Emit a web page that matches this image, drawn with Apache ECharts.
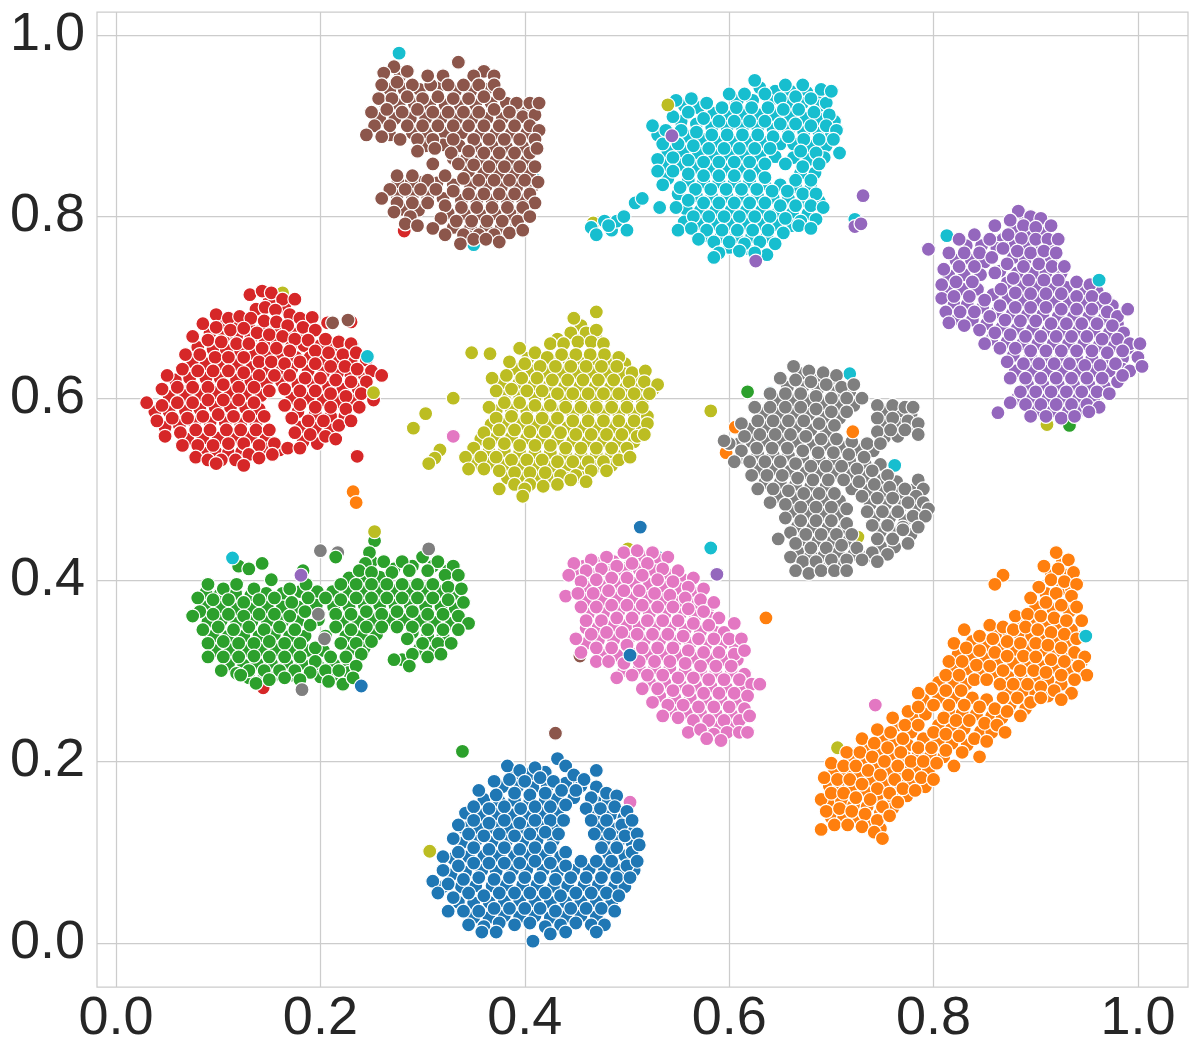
<!DOCTYPE html>
<html>
<head>
<meta charset="utf-8">
<style>html,body{margin:0;background:#fff}#chart{width:1200px;height:1050px}</style>
<script src="https://cdn.jsdelivr.net/npm/echarts@6/dist/echarts.min.js"></script>
</head>
<body>
<div id="chart"></div>
<script>
var tickValues = [0, 0.2, 0.4, 0.6, 0.8, 1.0];
var colors = ['#1f77b4','#ff7f0e','#2ca02c','#d62728','#9467bd','#8c564b','#e377c2','#7f7f7f','#bcbd22','#17becf'];

var blue = [[.39,.187],[.405,.186],[.42,.188],[.45,.178],[.378,.172],[.393,.172],[.408,.171],[.422,.172],[.44,.176],[.455,.173],[.36,.158],[.375,.156],[.39,.157],[.405,.156],[.42,.157],[.432,.159],[.448,.16],[.47,.155],[.482,.157],
[.342,.143],[.358,.141],[.372,.142],[.388,.141],[.402,.142],[.418,.143],[.432,.143],[.47,.141],[.485,.142],[.497,.138],[.34,.127],[.355,.126],[.37,.127],[.385,.126],[.4,.127],[.415,.128],[.43,.128],[.475,.128],[.49,.126],[.503,.127],
[.338,.11],[.352,.112],[.368,.111],[.382,.112],[.398,.111],[.412,.113],[.428,.113],[.478,.113],[.492,.112],[.505,.11],[.33,.093],[.345,.095],[.36,.096],[.375,.096],[.39,.096],[.405,.097],[.42,.097],[.435,.095],[.482,.098],[.498,.096],
[.328,.075],[.342,.078],[.358,.08],[.372,.079],[.388,.08],[.402,.081],[.418,.08],[.432,.078],[.448,.08],[.463,.081],[.478,.081],[.493,.08],[.507,.08],[.32,.062],[.338,.062],[.352,.063],[.368,.063],[.382,.064],[.398,.064],[.412,.064],[.428,.062],[.442,.063],[.458,.064],[.472,.064],[.488,.063],[.498,.062],
[.335,.045],[.35,.044],[.365,.045],[.38,.046],[.395,.047],[.41,.046],[.425,.045],[.44,.045],[.455,.046],[.47,.046],[.485,.044],[.35,.028],[.365,.028],[.38,.03],[.395,.029],[.41,.03],[.425,.028],[.44,.029],[.455,.03],[.47,.029],
[.383,.195],[.395,.19],[.41,.193],[.432,.203],[.44,.195],[.47,.19],
[.37,.178],[.385,.18],[.4,.178],[.415,.182],[.428,.178],[.448,.185],[.458,.18],[.47,.172],
[.355,.168],[.372,.163],[.39,.165],[.405,.163],[.42,.165],[.436,.168],[.45,.168],[.465,.16],[.48,.165],[.49,.162],
[.35,.15],[.365,.148],[.38,.15],[.396,.148],[.41,.15],[.425,.15],[.44,.152],[.46,.148],[.474,.148],[.488,.15],[.5,.145],
[.335,.13],[.35,.135],[.365,.132],[.38,.135],[.395,.132],[.41,.135],[.425,.135],[.438,.135],[.465,.135],[.48,.135],[.495,.13],[.505,.135],
[.33,.115],[.345,.12],[.36,.118],[.375,.12],[.39,.118],[.405,.12],[.42,.122],[.433,.12],[.468,.12],[.483,.12],[.498,.118],[.51,.12],
[.32,.095],[.335,.1],[.35,.105],[.365,.103],[.38,.105],[.395,.103],[.41,.105],[.425,.105],[.44,.1],[.475,.105],[.49,.105],[.505,.1],[.512,.108],
[.32,.08],[.335,.085],[.35,.088],[.365,.088],[.38,.088],[.395,.088],[.41,.09],[.425,.088],[.44,.085],[.455,.09],[.47,.09],[.485,.09],[.5,.085],[.51,.09],
[.31,.068],[.325,.065],[.34,.07],[.355,.072],[.37,.07],[.385,.072],[.4,.072],[.415,.072],[.43,.07],[.445,.072],[.46,.072],[.475,.072],[.49,.072],[.503,.072],
[.315,.055],[.33,.05],[.345,.055],[.36,.052],[.375,.055],[.39,.055],[.405,.055],[.42,.055],[.435,.052],[.45,.055],[.465,.055],[.48,.055],[.492,.052],
[.325,.035],[.34,.035],[.355,.035],[.37,.038],[.385,.038],[.4,.038],[.415,.038],[.43,.035],[.445,.038],[.46,.038],[.475,.038],[.488,.035],
[.345,.02],[.36,.018],[.375,.022],[.39,.02],[.405,.022],[.42,.018],[.435,.02],[.45,.022],[.465,.02],[.478,.02],
[.358,.012],[.372,.012],[.408,.002],[.425,.01],[.44,.012],[.47,.012]];

var orange = [[.926,.42],[.915,.408],[.93,.405],[.91,.385],[.925,.39],[.935,.39],[.9,.37],[.917,.367],[.933,.365],[.886,.355],[.898,.352],[.91,.352],[.923,.348],[.935,.345],[.862,.342],[.874,.34],[.885,.339],[.896,.338],[.908,.336],[.92,.333],[.933,.33],
[.838,.332],[.852,.328],[.865,.326],[.878,.323],[.893,.323],[.906,.322],[.92,.32],[.932,.316],[.945,.31],[.824,.318],[.838,.316],[.85,.313],[.862,.31],[.878,.308],[.892,.308],[.905,.305],[.92,.303],[.933,.3],[.945,.298],
[.82,.302],[.833,.302],[.848,.298],[.86,.297],[.873,.293],[.886,.292],[.9,.292],[.912,.29],[.925,.285],[.805,.287],[.82,.287],[.832,.285],[.872,.278],[.888,.278],[.9,.275],[.912,.272],
[.79,.268],[.805,.27],[.82,.27],[.838,.27],[.852,.268],[.875,.262],[.89,.258],[.78,.25],[.792,.252],[.815,.255],[.828,.253],[.842,.252],[.857,.25],[.867,.248],[.765,.24],[.778,.232],[.805,.24],[.818,.238],[.83,.236],[.846,.233],[.857,.232],
[.75,.225],[.763,.222],[.775,.218],[.79,.225],[.805,.222],[.818,.22],[.833,.218],[.735,.215],[.748,.21],[.76,.205],[.772,.205],[.785,.207],[.797,.206],[.81,.205],[.72,.202],[.732,.2],[.743,.196],[.756,.19],[.77,.19],[.782,.192],[.795,.19],
[.703,.188],[.715,.187],[.727,.185],[.74,.18],[.752,.175],[.767,.175],[.78,.175],[.792,.172],[.698,.173],[.708,.172],[.72,.172],[.733,.167],[.745,.162],[.76,.16],[.774,.162],[.698,.152],[.71,.156],[.722,.152],[.735,.15],[.748,.143],[.76,.148],[.7,.138],[.712,.138],[.725,.136],[.738,.132],[.748,.126],
[.92,.43],[.932,.422],[.908,.415],[.922,.412],[.937,.408],[.915,.4],[.928,.398],[.94,.395],[.868,.405],[.86,.395],[.903,.392],[.92,.385],[.935,.382],
[.895,.38],[.91,.375],[.925,.372],[.94,.37],[.945,.355],[.88,.36],[.892,.362],[.905,.36],[.918,.358],[.93,.355],[.855,.35],[.868,.348],[.878,.345],[.89,.348],[.902,.345],[.915,.342],[.928,.34],[.94,.335],
[.83,.345],[.845,.338],[.858,.335],[.872,.332],[.885,.33],[.9,.33],[.912,.328],[.925,.325],[.938,.32],[.948,.315],
[.82,.33],[.832,.325],[.845,.322],[.86,.32],[.872,.316],[.888,.316],[.9,.315],[.915,.312],[.928,.31],[.942,.305],[.95,.295],
[.815,.31],[.828,.31],[.842,.306],[.855,.305],[.868,.3],[.885,.3],[.898,.3],[.91,.298],[.925,.295],[.938,.29],[.935,.275],
[.812,.295],[.825,.295],[.84,.29],[.852,.29],[.865,.285],[.878,.285],[.892,.285],[.905,.282],[.918,.278],[.925,.268],
[.785,.275],[.798,.28],[.812,.278],[.827,.278],[.868,.27],[.882,.27],[.895,.265],[.905,.27],
[.775,.255],[.785,.26],[.8,.262],[.815,.262],[.83,.262],[.845,.26],[.86,.258],[.872,.255],[.885,.25],
[.76,.248],[.772,.24],[.785,.24],[.81,.248],[.822,.245],[.835,.245],[.85,.242],[.862,.24],[.87,.232],
[.745,.235],[.758,.232],[.77,.225],[.8,.232],[.812,.23],[.825,.228],[.84,.225],[.852,.222],
[.73,.225],[.742,.22],[.755,.215],[.768,.21],[.785,.215],[.798,.215],[.812,.212],[.828,.21],[.845,.205],
[.715,.21],[.728,.21],[.74,.205],[.752,.2],[.765,.195],[.778,.2],[.79,.2],[.803,.198],[.82,.195],
[.7,.198],[.712,.195],[.724,.195],[.736,.19],[.748,.185],[.762,.18],[.775,.185],[.788,.182],[.8,.18],
[.693,.182],[.706,.18],[.718,.18],[.73,.175],[.745,.17],[.757,.165],[.77,.17],[.782,.168],
[.69,.158],[.7,.165],[.712,.165],[.724,.16],[.738,.158],[.75,.15],[.765,.155],
[.695,.145],[.708,.148],[.72,.145],[.733,.142],[.745,.135],[.757,.14],
[.69,.125],[.703,.13],[.716,.13],[.73,.128],[.742,.122],[.75,.115]];

var green = [[.25,.42],[.244,.404],[.258,.403],[.272,.412],[.29,.415],[.31,.415],[.325,.41],[.228,.402],[.258,.388],[.272,.388],[.288,.388],[.303,.388],[.318,.387],[.332,.385],
[.088,.386],[.102,.384],[.117,.385],[.132,.383],[.147,.385],[.163,.385],[.18,.387],[.197,.387],[.212,.387],[.228,.387],[.243,.387],[.088,.37],[.103,.37],[.118,.368],[.133,.368],[.148,.37],[.163,.37],[.178,.37],[.196,.372],[.213,.37],[.228,.37],[.243,.372],[.258,.372],[.273,.372],[.288,.372],[.303,.37],[.318,.37],[.332,.368],
[.09,.354],[.103,.355],[.118,.352],[.133,.354],[.148,.354],[.163,.354],[.178,.354],[.198,.356],[.222,.354],[.237,.354],[.252,.356],[.267,.356],[.282,.356],[.298,.355],[.312,.353],[.328,.352],[.095,.338],[.11,.338],[.125,.338],[.14,.338],[.155,.34],[.17,.338],[.185,.338],[.205,.338],[.225,.338],[.24,.338],[.255,.34],[.29,.342],[.305,.338],[.32,.338],
[.097,.322],[.112,.323],[.127,.322],[.142,.323],[.157,.323],[.172,.322],[.187,.322],[.203,.322],[.228,.322],[.243,.325],[.297,.324],[.312,.323],[.11,.307],[.125,.306],[.138,.308],[.152,.308],[.167,.308],[.182,.308],[.198,.305],[.213,.307],[.228,.308],[.28,.312],[.13,.292],[.145,.294],[.158,.296],[.172,.295],[.2,.293],[.215,.294],[.228,.298],
[.253,.443],[.248,.43],[.244,.418],[.12,.415],[.13,.412],[.143,.418],[.152,.4],[.183,.41],[.215,.425],
[.262,.42],[.28,.42],[.3,.425],[.315,.42],[.33,.415],[.238,.41],[.25,.408],[.27,.408],[.287,.41],[.305,.41],[.322,.405],[.335,.405],
[.09,.395],[.105,.39],[.118,.395],[.135,.39],[.17,.39],[.186,.395],[.22,.395],[.235,.395],[.25,.395],[.265,.395],[.28,.395],[.295,.395],[.31,.395],[.325,.392],[.338,.39],
[.08,.38],[.095,.378],[.11,.378],[.125,.375],[.14,.378],[.155,.38],[.172,.375],[.188,.38],[.205,.38],[.22,.378],[.235,.38],[.25,.38],[.265,.38],[.28,.38],[.295,.38],[.31,.38],[.325,.378],[.34,.375],
[.082,.365],[.075,.36],[.095,.362],[.11,.362],[.125,.36],[.14,.362],[.155,.362],[.17,.36],[.185,.365],[.215,.362],[.23,.362],[.245,.365],[.26,.362],[.275,.365],[.29,.365],[.305,.362],[.32,.362],[.335,.36],[.345,.352],
[.085,.345],[.1,.348],[.115,.345],[.13,.348],[.145,.345],[.16,.348],[.175,.345],[.19,.35],[.215,.348],[.23,.345],[.245,.348],[.26,.348],[.275,.348],[.29,.348],[.305,.345],[.32,.345],[.335,.345],
[.09,.33],[.105,.332],[.12,.33],[.135,.33],[.15,.332],[.165,.33],[.18,.33],[.195,.325],[.22,.33],[.235,.33],[.25,.332],[.285,.335],[.3,.33],[.315,.33],[.328,.33],
[.09,.315],[.105,.315],[.12,.315],[.135,.316],[.15,.315],[.165,.315],[.18,.315],[.195,.31],[.21,.315],[.225,.315],[.24,.318],[.29,.318],[.305,.315],[.318,.318],
[.103,.3],[.118,.297],[.13,.3],[.145,.3],[.16,.3],[.175,.3],[.19,.298],[.205,.3],[.218,.3],[.235,.305],[.272,.312],[.287,.305],
[.122,.295],[.137,.286],[.15,.29],[.165,.292],[.18,.29],[.208,.288],[.222,.285],[.232,.292]];

var red = [[.15,.707],[.165,.7],[.137,.698],[.105,.682],[.118,.683],[.13,.68],[.144,.677],[.157,.676],[.172,.672],[.186,.671],[.092,.672],[.106,.668],[.118,.668],[.132,.666],[.146,.662],[.158,.662],[.172,.658],[.184,.658],[.2,.658],[.214,.656],[.228,.654],
[.08,.656],[.095,.654],[.108,.653],[.122,.652],[.136,.648],[.148,.648],[.162,.646],[.176,.645],[.19,.645],[.203,.643],[.216,.642],[.23,.641],[.075,.64],[.088,.638],[.103,.638],[.118,.637],[.133,.634],[.146,.632],[.16,.632],[.172,.632],[.188,.63],[.203,.628],[.217,.628],[.23,.625],[.243,.625],
[.058,.62],[.072,.622],[.088,.622],[.102,.622],[.118,.62],[.132,.619],[.147,.616],[.162,.618],[.178,.615],[.193,.615],[.208,.612],[.222,.61],[.237,.61],[.052,.602],[.068,.603],[.083,.604],[.097,.606],[.112,.606],[.127,.605],[.142,.603],[.172,.6],[.188,.6],[.203,.598],[.218,.596],[.232,.597],[.245,.61],
[.038,.585],[.052,.585],[.068,.586],[.082,.588],[.097,.59],[.112,.59],[.127,.589],[.14,.588],[.178,.585],[.195,.583],[.21,.58],[.224,.58],[.048,.568],[.062,.57],[.077,.572],[.092,.573],[.107,.573],[.122,.572],[.137,.572],[.18,.568],[.195,.567],[.21,.565],[.07,.555],[.085,.556],[.1,.556],[.117,.557],[.132,.557],[.147,.556],[.183,.552],[.197,.55],[.085,.54],[.098,.54],[.11,.54],[.123,.541],[.147,.544],[.16,.543],
[.131,.714],[.143,.718],[.152,.716],[.163,.709],[.175,.709],[.146,.7],[.156,.697],[.17,.692],[.18,.688],[.192,.689],[.207,.683],
[.098,.692],[.11,.688],[.121,.69],[.132,.688],[.145,.685],[.157,.684],[.168,.68],[.183,.678],[.195,.675],
[.085,.682],[.098,.678],[.112,.675],[.125,.677],[.138,.672],[.15,.67],[.163,.668],[.175,.665],[.188,.664],[.205,.665],[.218,.662],[.23,.66],
[.075,.668],[.09,.664],[.103,.662],[.118,.66],[.13,.66],[.143,.655],[.157,.655],[.17,.652],[.195,.652],[.208,.65],[.222,.648],[.235,.65],[.245,.642],
[.068,.648],[.082,.648],[.097,.645],[.11,.645],[.125,.645],[.14,.64],[.152,.64],[.165,.638],[.18,.64],[.195,.638],[.21,.635],[.224,.635],[.236,.632],[.25,.63],[.26,.625],
[.05,.625],[.065,.632],[.08,.63],[.095,.63],[.11,.63],[.125,.628],[.14,.625],[.155,.625],[.17,.625],[.185,.622],[.2,.622],[.215,.62],[.23,.618],[.245,.618],
[.045,.61],[.06,.612],[.075,.612],[.09,.612],[.105,.615],[.12,.612],[.135,.612],[.15,.608],[.165,.61],[.18,.608],[.195,.608],[.21,.605],[.225,.602],[.24,.605],[.252,.598],
[.03,.595],[.045,.592],[.06,.595],[.075,.595],[.09,.598],[.105,.598],[.12,.598],[.135,.595],[.165,.592],[.18,.593],[.195,.59],[.21,.59],[.225,.588],[.238,.59],
[.04,.575],[.055,.578],[.07,.578],[.085,.58],[.1,.582],[.115,.58],[.13,.58],[.145,.58],[.172,.578],[.188,.575],[.203,.575],[.218,.57],[.23,.575],
[.048,.558],[.063,.562],[.078,.565],[.092,.565],[.108,.565],[.122,.565],[.137,.565],[.15,.565],[.175,.562],[.19,.56],[.205,.558],[.215,.555],
[.065,.548],[.08,.548],[.095,.548],[.11,.55],[.125,.55],[.14,.548],[.155,.55],[.168,.545],[.18,.545],
[.078,.535],[.09,.532],[.103,.532],[.117,.532],[.13,.538],[.14,.534],[.153,.538],[.098,.528],[.125,.526]];

var purple = [[.89,.797],[.88,.786],[.894,.782],[.906,.782],[.868,.775],[.88,.77],[.893,.767],[.906,.768],[.915,.768],[.832,.768],[.847,.768],[.862,.765],[.878,.755],[.89,.753],[.902,.755],[.915,.753],
[.822,.752],[.837,.752],[.85,.75],[.865,.74],[.882,.738],[.898,.738],[.91,.738],[.925,.738],[.815,.735],[.83,.736],[.846,.736],[.872,.727],[.886,.723],[.9,.722],[.915,.722],[.93,.722],[.945,.72],[.96,.718],
[.815,.718],[.828,.72],[.843,.72],[.858,.714],[.873,.71],[.888,.708],[.903,.708],[.918,.706],[.933,.706],[.948,.705],[.962,.704],[.975,.702],[.82,.703],[.833,.703],[.848,.7],[.862,.695],[.877,.693],[.892,.692],[.907,.692],[.922,.69],[.937,.69],[.952,.69],[.967,.688],[.98,.682],
[.822,.688],[.838,.686],[.852,.682],[.867,.678],[.882,.677],[.897,.676],[.912,.675],[.927,.675],[.942,.675],[.957,.674],[.972,.672],[.986,.672],[.857,.665],[.872,.662],[.887,.66],[.902,.66],[.917,.66],[.932,.66],[.947,.66],[.962,.658],[.977,.658],[.99,.655],
[.878,.647],[.895,.645],[.91,.645],[.925,.645],[.94,.644],[.955,.644],[.97,.644],[.985,.644],[.88,.63],[.896,.63],[.912,.63],[.927,.63],[.942,.63],[.957,.63],[.972,.63],[.985,.632],[.892,.615],[.907,.615],[.922,.615],[.937,.615],[.952,.615],[.967,.613],[.882,.6],[.897,.6],[.912,.6],[.927,.6],[.942,.6],[.957,.6],[.902,.587],[.917,.586],[.932,.586],[.945,.587],
[.883,.806],[.895,.8],[.905,.798],[.875,.796],[.888,.79],[.9,.788],[.915,.79],[.86,.79],[.873,.78],[.886,.776],[.9,.775],[.912,.775],[.922,.775],
[.825,.775],[.84,.78],[.855,.775],[.868,.765],[.882,.762],[.895,.76],[.908,.762],[.92,.76],
[.815,.76],[.83,.76],[.845,.76],[.857,.755],[.872,.748],[.888,.745],[.903,.748],[.916,.745],[.928,.745],
[.81,.742],[.825,.745],[.84,.745],[.86,.738],[.878,.732],[.893,.73],[.908,.73],[.922,.73],[.94,.728],[.953,.725],
[.808,.725],[.822,.728],[.838,.728],[.866,.72],[.88,.716],[.895,.715],[.91,.715],[.925,.715],[.94,.712],[.955,.712],[.968,.71],
[.808,.71],[.82,.712],[.835,.712],[.85,.708],[.865,.702],[.88,.7],[.895,.7],[.91,.7],[.925,.698],[.94,.698],[.955,.698],[.97,.695],[.98,.69],
[.812,.695],[.826,.695],[.84,.695],[.855,.69],[.87,.686],[.885,.685],[.9,.685],[.915,.682],[.93,.682],[.945,.682],[.96,.682],[.975,.68],[.99,.698],
[.815,.683],[.83,.68],[.845,.675],[.86,.672],[.875,.67],[.89,.668],[.905,.668],[.92,.668],[.935,.668],[.95,.668],[.965,.665],[.98,.665],[.992,.66],[1.002,.66],
[.85,.66],[.865,.655],[.88,.655],[.895,.652],[.91,.652],[.925,.652],[.94,.652],[.955,.652],[.97,.65],[.985,.652],[1.0,.645],
[.872,.64],[.888,.638],[.903,.638],[.918,.638],[.933,.638],[.948,.636],[.963,.636],[.978,.638],[.992,.63],[1.004,.635],
[.875,.622],[.89,.622],[.905,.622],[.92,.622],[.935,.622],[.95,.622],[.965,.622],[.98,.618],[.985,.625],
[.885,.607],[.9,.607],[.915,.607],[.93,.607],[.945,.607],[.96,.607],[.972,.605],
[.875,.595],[.89,.593],[.905,.593],[.92,.593],[.935,.593],[.95,.593],[.962,.59],
[.895,.58],[.91,.58],[.925,.578],[.938,.58],[.952,.585]];

var brown = [[.278,.955],[.268,.94],[.282,.94],[.297,.94],[.315,.942],[.332,.938],[.347,.938],[.362,.94],[.263,.925],[.277,.923],[.292,.924],[.307,.923],[.322,.923],[.337,.922],[.352,.923],[.367,.925],[.382,.925],[.398,.918],
[.258,.908],[.273,.908],[.288,.908],[.303,.908],[.318,.908],[.333,.907],[.348,.907],[.363,.908],[.378,.908],[.392,.907],[.405,.907],[.268,.89],[.29,.892],[.305,.892],[.322,.892],[.338,.892],[.357,.892],[.372,.892],[.387,.892],[.402,.892],
[.303,.878],[.32,.879],[.336,.878],[.352,.878],[.368,.878],[.382,.877],[.398,.877],[.33,.864],[.343,.864],[.357,.863],[.372,.862],[.387,.862],[.402,.862],[.3,.838],[.314,.837],[.33,.835],[.347,.834],[.362,.833],[.377,.832],[.392,.832],[.407,.832],
[.345,.85],[.36,.848],[.375,.848],[.39,.848],[.405,.848],[.276,.838],[.289,.838],[.275,.823],[.29,.823],[.305,.822],[.32,.82],[.338,.818],[.353,.818],[.368,.818],[.383,.818],[.398,.818],[.28,.808],[.296,.807],[.325,.804],[.341,.803],[.356,.803],[.371,.803],[.386,.803],[.399,.803],[.33,.788],[.347,.788],[.362,.788],[.377,.788],[.392,.79],[.345,.778],[.356,.778],[.368,.778],
[.272,.965],[.285,.96],[.262,.958],[.335,.97],[.36,.96],[.37,.955],[.308,.945],[.32,.955],[.35,.955],
[.26,.945],[.275,.948],[.29,.945],[.305,.955],[.325,.945],[.34,.945],[.355,.945],[.37,.945],
[.257,.93],[.27,.93],[.285,.932],[.3,.93],[.315,.932],[.33,.93],[.345,.93],[.36,.932],[.375,.935],[.392,.925],[.405,.925],
[.25,.915],[.265,.918],[.28,.915],[.295,.918],[.31,.915],[.325,.915],[.34,.915],[.355,.915],[.37,.918],[.385,.915],[.398,.91],[.41,.912],
[.253,.9],[.268,.9],[.285,.9],[.3,.9],[.315,.9],[.33,.9],[.345,.9],[.36,.9],[.375,.9],[.39,.9],[.405,.9],[.414,.895],
[.245,.89],[.26,.888],[.278,.885],[.295,.885],[.31,.885],[.33,.885],[.35,.885],[.365,.885],[.38,.885],[.395,.885],[.41,.885],
[.295,.872],[.312,.875],[.328,.87],[.345,.872],[.36,.87],[.375,.87],[.39,.87],[.405,.87],[.412,.875],
[.31,.858],[.335,.858],[.35,.857],[.365,.855],[.38,.855],[.395,.855],[.41,.855],
[.275,.845],[.29,.845],[.305,.84],[.322,.845],[.34,.842],[.355,.84],[.37,.84],[.385,.84],[.4,.84],[.413,.838],
[.268,.83],[.283,.83],[.298,.83],[.313,.83],[.33,.828],[.345,.825],[.36,.825],[.375,.825],[.39,.825],[.405,.825],[.41,.815],
[.26,.82],[.275,.815],[.29,.815],[.305,.815],[.322,.812],[.338,.81],[.353,.81],[.368,.81],[.383,.81],[.398,.81],
[.272,.805],[.288,.8],[.318,.798],[.333,.795],[.348,.795],[.363,.795],[.378,.795],[.393,.795],[.405,.8],
[.283,.792],[.295,.79],[.31,.787],[.322,.78],[.34,.78],[.355,.78],[.37,.78],[.385,.782],[.398,.785],
[.337,.77],[.35,.775],[.362,.775],[.375,.772]];

var pink = [[.503,.425],[.517,.425],[.532,.422],[.472,.418],[.487,.42],[.458,.415],[.452,.408],[.467,.406],[.482,.408],[.497,.41],[.512,.411],[.527,.41],[.542,.405],[.555,.4],[.463,.392],[.477,.393],[.492,.395],[.507,.396],[.522,.395],[.537,.392],[.552,.39],[.567,.385],
[.46,.378],[.475,.378],[.49,.38],[.505,.38],[.52,.38],[.535,.378],[.55,.375],[.565,.373],[.58,.37],[.462,.362],[.477,.363],[.492,.365],[.507,.365],[.522,.363],[.537,.362],[.552,.362],[.567,.36],[.582,.358],[.46,.347],[.472,.348],[.487,.35],[.5,.35],[.512,.348],[.527,.348],[.542,.347],[.557,.345],[.572,.343],[.587,.342],
[.46,.33],[.472,.333],[.487,.334],[.502,.335],[.517,.333],[.532,.333],[.547,.332],[.562,.33],[.577,.328],[.592,.328],[.606,.327],[.476,.317],[.49,.317],[.505,.318],[.52,.318],[.535,.318],[.55,.317],[.565,.314],[.58,.313],[.595,.312],[.608,.312],
[.497,.3],[.512,.303],[.527,.303],[.542,.303],[.557,.3],[.572,.298],[.587,.298],[.602,.298],[.615,.296],[.522,.287],[.537,.287],[.552,.285],[.567,.284],[.582,.283],[.597,.282],[.612,.282],[.532,.272],[.547,.27],[.562,.27],[.577,.268],[.592,.268],[.607,.266],[.543,.256],[.558,.254],[.572,.253],[.587,.253],[.602,.252],[.565,.238],[.578,.238],[.59,.238],[.604,.238],
[.497,.43],[.51,.432],[.525,.43],[.54,.425],[.48,.425],[.465,.422],[.448,.418],
[.46,.41],[.475,.412],[.49,.415],[.505,.418],[.52,.418],[.535,.412],[.55,.41],[.565,.402],
[.443,.405],[.455,.398],[.47,.4],[.485,.402],[.5,.402],[.515,.405],[.53,.4],[.545,.398],[.56,.392],[.575,.39],
[.44,.382],[.452,.385],[.467,.385],[.482,.388],[.497,.388],[.512,.388],[.527,.385],[.542,.383],[.557,.38],[.572,.378],[.585,.375],
[.455,.37],[.47,.37],[.485,.372],[.5,.372],[.515,.372],[.53,.37],[.545,.37],[.56,.368],[.575,.365],[.59,.358],
[.46,.355],[.475,.355],[.49,.358],[.505,.358],[.52,.355],[.535,.355],[.55,.355],[.565,.352],[.58,.35],[.595,.342],[.605,.352],
[.45,.335],[.465,.34],[.48,.342],[.495,.342],[.51,.34],[.525,.34],[.54,.34],[.555,.338],[.57,.335],[.585,.335],[.6,.335],[.612,.335],
[.455,.32],[.47,.325],[.485,.325],[.5,.328],[.515,.325],[.53,.325],[.545,.325],[.56,.322],[.575,.32],[.59,.32],[.605,.318],[.615,.322],
[.47,.31],[.482,.31],[.497,.308],[.512,.31],[.527,.31],[.542,.31],[.557,.308],[.572,.305],[.587,.305],[.602,.305],
[.49,.292],[.505,.295],[.52,.295],[.535,.295],[.55,.292],[.565,.292],[.58,.29],[.595,.29],[.61,.29],[.622,.285],[.63,.285],
[.515,.28],[.53,.28],[.545,.278],[.56,.278],[.575,.275],[.59,.275],[.605,.275],[.618,.272],
[.525,.265],[.54,.262],[.555,.262],[.57,.26],[.585,.26],[.6,.26],[.615,.258],
[.535,.25],[.55,.248],[.565,.245],[.58,.245],[.595,.245],[.61,.245],[.62,.25],
[.56,.232],[.572,.235],[.585,.23],[.598,.232],[.61,.232],[.618,.232],[.578,.225],[.592,.223]];

var gray = [[.67,.627],[.685,.623],[.698,.62],[.657,.612],[.672,.612],[.687,.61],[.703,.606],[.718,.607],[.648,.598],[.662,.598],[.678,.597],[.693,.594],[.707,.592],[.722,.592],[.752,.585],[.767,.584],[.778,.582],
[.633,.583],[.648,.583],[.663,.583],[.678,.582],[.693,.579],[.708,.578],[.752,.572],[.767,.571],[.78,.568],[.62,.566],[.636,.568],[.65,.568],[.665,.568],[.68,.565],[.695,.563],[.752,.557],[.765,.558],[.61,.55],[.622,.552],[.637,.553],[.652,.553],[.667,.552],[.682,.548],[.697,.548],[.712,.546],[.727,.543],[.741,.542],
[.613,.535],[.628,.538],[.643,.538],[.658,.537],[.672,.535],[.688,.533],[.703,.533],[.718,.531],[.733,.528],[.748,.527],[.63,.522],[.645,.522],[.66,.52],[.675,.518],[.69,.518],[.705,.518],[.72,.516],[.735,.514],[.75,.51],[.764,.508],[.635,.507],[.65,.507],[.665,.505],[.68,.503],[.695,.503],[.72,.5],[.737,.499],[.752,.497],[.767,.495],[.782,.5],
[.648,.492],[.663,.49],[.678,.488],[.693,.488],[.708,.487],[.738,.483],[.753,.483],[.768,.481],[.783,.478],[.662,.475],[.677,.473],[.692,.472],[.707,.472],[.742,.468],[.757,.468],[.772,.465],[.785,.465],[.667,.459],[.682,.458],[.697,.458],[.712,.456],[.748,.453],[.762,.452],[.778,.45],[.672,.444],[.687,.443],[.702,.443],[.717,.443],[.748,.437],[.762,.436],[.667,.431],[.68,.427],[.693,.427],[.707,.43],[.722,.428],[.737,.427],[.672,.414],[.685,.414],[.698,.415],[.71,.416],
[.663,.635],[.678,.63],[.692,.628],[.705,.625],[.65,.622],[.665,.62],[.68,.618],[.695,.615],[.71,.612],[.722,.615],
[.64,.605],[.655,.605],[.67,.605],[.685,.602],[.7,.6],[.715,.6],[.73,.6],[.745,.592],[.76,.592],[.772,.59],[.78,.59],
[.625,.59],[.64,.59],[.655,.59],[.67,.59],[.685,.588],[.7,.585],[.715,.585],[.745,.578],[.76,.578],[.775,.575],[.785,.572],
[.612,.572],[.628,.575],[.643,.575],[.658,.575],[.673,.575],[.688,.572],[.703,.57],[.745,.563],[.758,.565],[.772,.565],[.785,.56],
[.6,.55],[.615,.558],[.63,.56],[.645,.56],[.66,.56],[.675,.558],[.69,.555],[.705,.555],[.72,.552],[.735,.55],[.748,.55],
[.595,.553],[.612,.542],[.627,.545],[.642,.545],[.657,.545],[.672,.542],[.687,.54],[.702,.54],[.717,.538],[.732,.535],
[.605,.53],[.62,.53],[.635,.53],[.65,.53],[.665,.528],[.68,.525],[.695,.525],[.71,.525],[.725,.522],[.74,.52],[.755,.515],[.785,.51],[.79,.5],
[.622,.515],[.637,.515],[.652,.515],[.667,.512],[.682,.51],[.697,.51],[.712,.51],[.727,.508],[.742,.505],[.757,.502],[.772,.5],[.783,.492],
[.628,.5],[.643,.5],[.658,.498],[.673,.495],[.688,.495],[.703,.495],[.73,.492],[.745,.49],[.76,.49],[.775,.485],[.79,.485],[.795,.478],
[.64,.485],[.655,.483],[.67,.48],[.685,.48],[.7,.48],[.715,.478],[.735,.475],[.75,.475],[.765,.475],[.78,.47],[.792,.47],
[.655,.468],[.67,.465],[.685,.465],[.7,.465],[.715,.462],[.74,.46],[.755,.46],[.77,.458],[.785,.458],
[.66,.452],[.675,.45],[.69,.45],[.705,.45],[.72,.45],[.745,.445],[.76,.445],[.775,.44],[.77,.455],
[.665,.44],[.68,.435],[.695,.435],[.71,.438],[.725,.435],[.74,.43],[.755,.428],[.648,.445],
[.66,.425],[.672,.42],[.685,.42],[.7,.422],[.715,.422],[.73,.422],[.745,.42],
[.665,.41],[.678,.407],[.69,.41],[.703,.41],[.715,.41]];

var olive = [[.455,.68],[.432,.665],[.445,.666],[.458,.667],[.47,.666],[.403,.644],[.417,.641],[.43,.642],[.443,.642],[.457,.642],[.471,.642],[.485,.641],[.498,.638],[.392,.632],[.407,.63],[.422,.628],[.437,.628],[.452,.628],[.467,.628],[.482,.628],[.497,.627],[.511,.624],
[.378,.616],[.394,.616],[.409,.615],[.424,.614],[.439,.613],[.454,.613],[.469,.613],[.484,.612],[.499,.612],[.514,.612],[.526,.61],[.38,.602],[.395,.602],[.41,.6],[.425,.599],[.44,.598],[.455,.598],[.47,.598],[.485,.598],[.5,.598],[.515,.598],
[.372,.586],[.387,.587],[.402,.586],[.417,.585],[.432,.585],[.447,.583],[.462,.583],[.477,.583],[.492,.583],[.507,.583],[.52,.58],[.367,.571],[.382,.572],[.397,.572],[.412,.571],[.427,.571],[.442,.568],[.457,.568],[.472,.568],[.487,.568],[.502,.567],[.515,.565],
[.357,.555],[.372,.557],[.387,.557],[.402,.556],[.417,.556],[.432,.555],[.447,.553],[.462,.553],[.477,.553],[.492,.553],[.507,.552],[.352,.54],[.365,.542],[.38,.542],[.395,.54],[.41,.54],[.425,.54],[.44,.538],[.455,.538],[.47,.538],[.485,.538],[.497,.538],
[.35,.528],[.365,.528],[.38,.526],[.395,.525],[.41,.525],[.425,.524],[.44,.523],[.455,.523],[.47,.525],[.485,.526],[.383,.512],[.397,.512],[.412,.511],[.427,.51],[.44,.512],[.455,.513],
[.47,.695],[.448,.688],[.46,.672],[.445,.672],[.47,.675],[.425,.66],[.438,.66],[.452,.662],[.465,.662],[.477,.66],
[.395,.655],[.41,.65],[.422,.645],[.436,.648],[.45,.648],[.464,.648],[.478,.648],[.492,.645],
[.385,.64],[.4,.638],[.415,.635],[.43,.635],[.445,.635],[.46,.635],[.475,.635],[.49,.635],[.505,.628],[.518,.63],
[.368,.622],[.382,.625],[.397,.622],[.412,.622],[.427,.62],[.442,.62],[.457,.62],[.472,.62],[.487,.62],[.502,.618],[.517,.618],[.53,.615],
[.372,.608],[.387,.61],[.402,.608],[.417,.608],[.432,.605],[.447,.605],[.462,.605],[.477,.605],[.492,.605],[.507,.605],[.522,.605],
[.365,.59],[.38,.595],[.395,.595],[.41,.592],[.425,.592],[.44,.59],[.455,.59],[.47,.59],[.485,.59],[.5,.59],[.515,.59],[.33,.6],
[.372,.578],[.387,.58],[.402,.578],[.417,.578],[.432,.578],[.447,.575],[.462,.575],[.477,.575],[.492,.575],[.507,.575],[.52,.572],
[.36,.562],[.375,.565],[.39,.565],[.405,.563],[.42,.563],[.435,.562],[.45,.56],[.465,.56],[.48,.56],[.495,.56],[.51,.558],
[.35,.545],[.365,.55],[.38,.55],[.395,.548],[.41,.548],[.425,.548],[.44,.545],[.455,.545],[.47,.545],[.485,.545],[.5,.545],[.517,.56],
[.342,.535],[.357,.535],[.372,.535],[.387,.532],[.402,.532],[.417,.532],[.432,.53],[.447,.53],[.462,.53],[.477,.53],[.492,.532],[.503,.535],
[.345,.522],[.36,.522],[.375,.52],[.39,.518],[.405,.518],[.42,.518],[.435,.515],[.45,.515],[.465,.52],[.48,.52],
[.375,.5],[.39,.505],[.405,.505],[.418,.503],[.432,.505],[.445,.51],[.46,.508],[.4,.5],[.398,.492],
[.303,.583],[.291,.567],[.317,.543],[.312,.534],[.306,.528]];

var cyan = [[.63,.942],[.645,.938],[.66,.938],[.676,.937],[.69,.932],[.608,.928],[.623,.928],[.64,.927],[.657,.925],[.672,.925],[.688,.922],[.556,.922],[.57,.92],[.585,.914],[.6,.912],[.614,.912],[.63,.912],[.645,.912],[.66,.91],[.675,.908],[.69,.907],[.703,.905],
[.553,.905],[.568,.902],[.583,.898],[.598,.898],[.613,.898],[.628,.898],[.643,.896],[.658,.895],[.673,.893],[.688,.892],[.7,.892],[.53,.89],[.545,.888],[.56,.888],[.575,.885],[.59,.882],[.605,.882],[.62,.882],[.635,.882],[.65,.88],[.663,.88],[.678,.878],[.695,.878],
[.54,.872],[.555,.872],[.57,.87],[.585,.868],[.6,.868],[.615,.868],[.63,.867],[.645,.866],[.663,.865],[.678,.863],[.693,.865],[.538,.857],[.553,.857],[.568,.854],[.583,.852],[.598,.852],[.613,.852],[.628,.851],[.67,.848],[.684,.848],[.54,.842],[.56,.84],[.575,.838],[.59,.838],[.605,.838],[.62,.838],[.635,.836],[.65,.835],[.665,.833],[.68,.832],
[.55,.825],[.568,.823],[.583,.822],[.598,.822],[.613,.822],[.628,.822],[.643,.821],[.658,.82],[.673,.818],[.688,.817],[.558,.808],[.572,.807],[.587,.807],[.602,.807],[.617,.807],[.632,.807],[.648,.805],[.662,.804],[.677,.803],[.556,.794],[.572,.792],[.586,.792],[.601,.792],[.616,.792],[.631,.792],[.646,.791],[.661,.79],[.577,.779],[.592,.778],[.607,.778],[.622,.778],[.637,.778],[.6,.766],[.617,.765],
[.625,.95],[.655,.945],[.672,.945],[.69,.94],[.6,.935],[.615,.935],[.635,.935],[.65,.93],[.665,.932],[.68,.93],[.695,.925],[.7,.938],
[.548,.928],[.563,.93],[.578,.925],[.593,.92],[.607,.92],[.622,.92],[.638,.92],[.653,.918],[.668,.918],[.683,.915],[.698,.912],
[.545,.91],[.56,.915],[.575,.908],[.59,.905],[.605,.905],[.62,.905],[.635,.905],[.65,.902],[.665,.902],[.68,.9],[.695,.9],[.705,.895],
[.525,.9],[.538,.895],[.553,.895],[.568,.893],[.583,.89],[.598,.89],[.613,.89],[.628,.89],[.643,.888],[.658,.888],[.673,.885],[.688,.885],[.702,.885],
[.535,.88],[.55,.88],[.565,.878],[.58,.875],[.595,.875],[.61,.875],[.625,.875],[.64,.875],[.67,.872],[.685,.87],[.708,.87],
[.53,.863],[.545,.865],[.56,.862],[.575,.86],[.59,.86],[.605,.86],[.62,.86],[.635,.858],[.655,.858],[.672,.855],[.688,.858],
[.53,.85],[.545,.85],[.56,.847],[.575,.845],[.59,.845],[.605,.845],[.62,.845],[.635,.843],[.665,.84],[.68,.84],
[.535,.835],[.552,.832],[.567,.83],[.582,.83],[.597,.83],[.612,.83],[.627,.83],[.642,.828],[.657,.828],[.672,.825],[.685,.825],
[.56,.818],[.575,.815],[.59,.815],[.605,.815],[.62,.815],[.635,.815],[.65,.812],[.665,.812],[.68,.812],[.692,.81],
[.548,.81],[.565,.8],[.58,.8],[.595,.8],[.61,.8],[.625,.8],[.64,.8],[.655,.798],[.67,.795],[.685,.797],
[.55,.785],[.563,.787],[.578,.785],[.593,.785],[.608,.785],[.623,.785],[.638,.785],[.653,.782],[.668,.79],[.68,.787],
[.57,.775],[.585,.772],[.6,.772],[.615,.77],[.63,.772],[.645,.77],[.59,.76],[.61,.762],[.625,.76],[.585,.755],
[.465,.788],[.47,.78],[.478,.795],[.485,.785],[.49,.795],[.482,.79],[.497,.8],[.5,.785],[.508,.815],[.515,.82],[.532,.81]];

var clusters = [blue, orange, green, red, purple, brown, pink, gray, olive, cyan];

// stray points as [x, y, colour index]
var underPoints = [[.163,.716,8],[.231,.66,9],[.23,.684,3],[.41,.841,9],[.282,.784,3],[.35,.769,9],[.467,.793,8],[.723,.797,9],[.637,.758,9],
[.813,.779,9],[.911,.571,8],[.933,.57,2],[.64,.606,9],[.718,.627,9],[.606,.568,1],[.597,.54,1],[.762,.526,9],[.726,.447,8],[.33,.558,6],
[.532,.424,0],[.144,.281,3],[.706,.215,8],[.307,.101,8],[.503,.155,6],[.588,.406,0],[.501,.434,8],[.503,.416,5],[.454,.316,5],[.217,.43,7],[.945,.337,1]];
var overPoints = [[.277,.98,9],[.212,.683,5],[.227,.686,5],[.246,.646,9],[.252,.606,8],[.236,.536,3],[.232,.497,1],[.235,.485,1],
[.414,.925,5],[.54,.923,8],[.544,.889,4],[.731,.823,4],[.723,.789,4],[.729,.792,4],[.626,.751,4],[.962,.73,9],[.863,.584,4],[.795,.764,4],
[.618,.607,2],[.582,.586,8],[.721,.563,1],[.348,.65,8],[.366,.649,8],[.513,.458,0],[.582,.435,9],[.636,.358,1],[.588,.406,4],[.503,.317,0],
[.114,.424,9],[.2,.432,7],[.306,.434,7],[.181,.405,4],[.253,.453,8],[.198,.362,7],[.204,.335,7],[.182,.279,7],[.24,.283,0],
[.949,.338,9],[.743,.262,6],[.43,.231,5],[.339,.211,2]];

var strayStyle = {
    opacity: 1,
    borderColor: '#ffffff',
    borderWidth: 1.2,
    color: function (params) {
        return colors[params.data[2]];
    }
};
var series = [{type: 'scatter', data: underPoints, symbolSize: 14, itemStyle: strayStyle, large: false}];
clusters.forEach(function (points, i) {
    series.push({type: 'scatter', data: points, symbolSize: 14, large: false,
        itemStyle: {opacity: 1, color: colors[i], borderColor: '#ffffff', borderWidth: 1.2}});
});
series.push({type: 'scatter', data: overPoints, symbolSize: 14, itemStyle: strayStyle, large: false});

function axisOf(min, max, margin) {
    return {
        type: 'value',
        min: min,
        max: max,
        axisLine: {show: false},
        axisTick: {show: false, customValues: tickValues},
        axisLabel: {
            customValues: tickValues,
            margin: margin,
            color: '#262626',
            fontFamily: 'Liberation Sans',
            fontSize: 54,
            formatter: function (v) { return v.toFixed(1); }
        },
        splitLine: {show: true, lineStyle: {color: '#cccccc', width: 1.25}}
    };
}

var myChart = echarts.init(document.getElementById('chart'));
var option = {
    animation: false,
    backgroundColor: '#ffffff',
    grid: {show: true, left: 97, top: 12, width: 1091, height: 975, borderColor: '#cccccc', borderWidth: 1.25, containLabel: false},
    xAxis: axisOf(-0.0186, 1.049, 5),
    yAxis: axisOf(-0.0485, 1.0253, 12),
    series: series
};
myChart.setOption(option);
</script>
</body>
</html>
